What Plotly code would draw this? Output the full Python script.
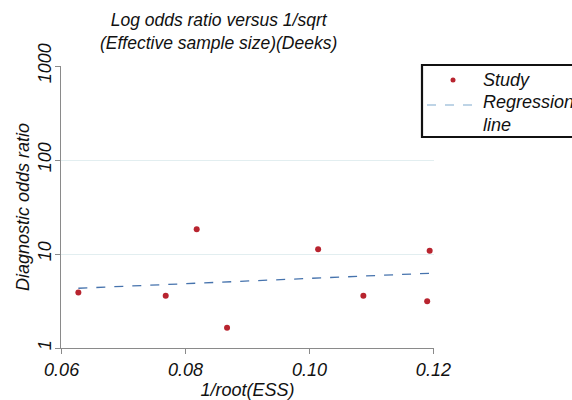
import plotly.graph_objects as go

# Data
inv_root_ess = [0.0627, 0.0768, 0.0818, 0.0867, 0.1014, 0.1087, 0.1190, 0.1194]
diag_or = [3.9, 3.6, 18.3, 1.64, 11.2, 3.6, 3.15, 10.8]
reg_x = [0.0627, 0.1194]
reg_y = [4.32, 6.24]
x_ticks = [0.06, 0.08, 0.10, 0.12]
x_tick_labels = ["0.06", "0.08", "0.10", "0.12"]
y_ticks = [1, 10, 100, 1000]
y_tick_labels = ["1", "10", "100", "1000"]

FONT = "Liberation Sans, Arial, Helvetica, sans-serif"
FS = 18
TXT = "#111111"
RED = "#b8242f"
BLUE = "#4673ad"
LIGHTBLUE = "#a9c6de"
AXIS = "#8a8a8a"

fig = go.Figure()
fig.add_trace(go.Scatter(
    x=reg_x, y=reg_y, mode="lines", name="Regression line",
    line=dict(color=BLUE, width=1.3, dash="dash"), showlegend=False,
))
fig.add_trace(go.Scatter(
    x=inv_root_ess, y=diag_or, mode="markers", name="Study",
    marker=dict(color=RED, size=6), showlegend=False,
))

L, R, T, B = 61, 138, 66, 52
W, H = 572, 400
pw = W - L - R
ph = H - T - B

def px(xp):
    return (xp - L) / pw

def py(yp):
    return (H - B - yp) / ph

fig.update_layout(
    width=W, height=H,
    margin=dict(l=L, r=R, t=T, b=B, pad=0),
    paper_bgcolor="white", plot_bgcolor="white",
    font=dict(family=FONT, size=FS, color=TXT),
    xaxis=dict(
        range=[0.0599, 0.1201], automargin=False,
        tickvals=x_ticks, ticktext=["<i>%s</i>" % t for t in x_tick_labels],
        showgrid=False, zeroline=False,
        showline=True, linecolor=AXIS, linewidth=1,
        ticks="outside", ticklen=5, tickcolor=AXIS, tickwidth=1,
        tickfont=dict(family=FONT, size=FS, color=TXT),
        title=dict(text="<i>1/root(ESS)</i>", standoff=0,
                   font=dict(family=FONT, size=FS, color=TXT)),
    ),
    yaxis=dict(
        type="log", range=[0, 3], automargin=False,
        tickvals=y_ticks, ticktext=["<i>%s</i>" % t for t in y_tick_labels],
        tickangle=-90, ticklabelstandoff=-3,
        showgrid=True, gridcolor="#e2eef0", gridwidth=1,
        zeroline=False,
        showline=True, linecolor=AXIS, linewidth=1,
        ticks="outside", ticklen=5, tickcolor=AXIS, tickwidth=1,
        tickfont=dict(family=FONT, size=FS, color=TXT),
        title=dict(text="<i>Diagnostic odds ratio</i>", standoff=0,
                   font=dict(family=FONT, size=FS, color=TXT)),
    ),
    shapes=[
        # legend box (extends beyond the right edge like the reference)
        dict(type="rect", xref="paper", yref="paper",
             x0=px(422), x1=px(595), y0=py(65), y1=py(137),
             line=dict(color="#111111", width=2.2), fillcolor="white", layer="above"),
        dict(type="line", xref="paper", yref="paper",
             x0=px(427), x1=px(475), y0=py(105), y1=py(105),
             line=dict(color=LIGHTBLUE, width=1.5, dash="dash"), layer="above"),
        dict(type="circle", xref="paper", yref="paper",
             x0=px(450.5), x1=px(455.5), y0=py(77.5), y1=py(82.5),
             line=dict(color=RED, width=0), fillcolor=RED, layer="above"),
    ],
    annotations=[
        dict(text="<i>Log odds ratio versus 1/sqrt<br>(Effective sample size)(Deeks)</i>",
             xref="paper", yref="paper", x=px(218), y=py(31),
             xanchor="center", yanchor="middle", align="center",
             showarrow=False, font=dict(family=FONT, size=17.5, color=TXT)),
        dict(text="<i>Study</i>", xref="paper", yref="paper",
             x=px(481), y=py(80), xanchor="left", yanchor="middle",
             showarrow=False, font=dict(family=FONT, size=FS, color=TXT)),
        dict(text="<i>Regression<br>line</i>", xref="paper", yref="paper",
             x=px(481), y=py(113), xanchor="left", yanchor="middle", align="left",
             showarrow=False, font=dict(family=FONT, size=FS, color=TXT)),
    ],
)

fig.write_html("out.html")
